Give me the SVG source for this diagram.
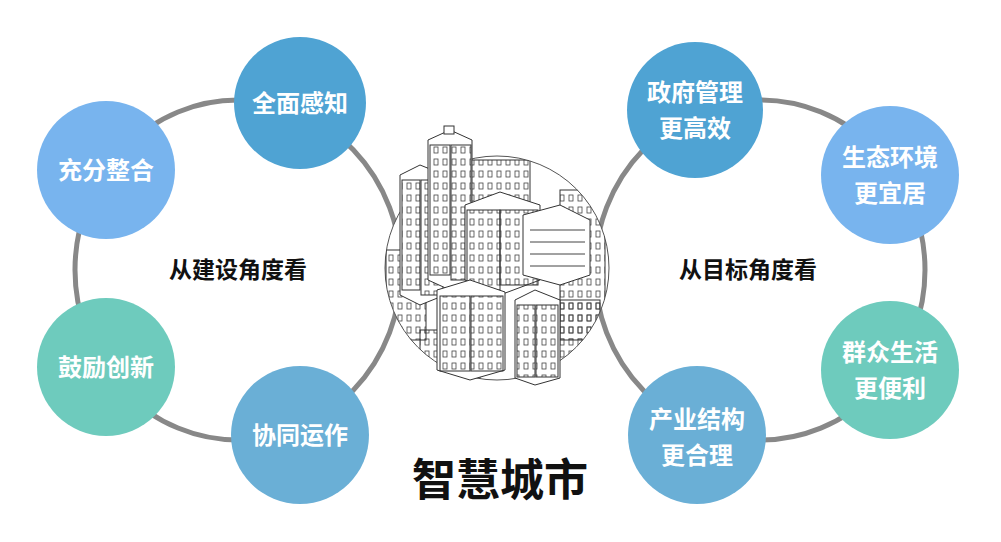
<svg xmlns="http://www.w3.org/2000/svg" width="1001" height="542" viewBox="0 0 1001 542">
<style>
.ring{fill:none;stroke:#888;stroke-width:5}
.n text{font-family:"Noto Sans CJK SC",sans-serif;font-weight:bold;font-size:24px;fill:#fff;text-anchor:middle}
.lbl{font-family:"Noto Sans CJK SC",sans-serif;font-weight:bold;font-size:23px;fill:#111;text-anchor:middle}
.b{fill:#fff;stroke:#333;stroke-width:1}
.w{fill:url(#win);stroke:#333;stroke-width:1}
</style>
<defs>
<pattern id="win" width="9" height="12" patternUnits="userSpaceOnUse"><rect x="2" y="3" width="4" height="6" fill="none" stroke="#444" stroke-width="0.8"/></pattern>
<clipPath id="cc"><circle cx="497" cy="268" r="112"/></clipPath>
</defs>
<g id="connectors">
<ellipse class="ring" cx="238" cy="270" rx="163" ry="170"/>
<ellipse class="ring" cx="760" cy="270" rx="165" ry="170"/>
</g>
<g id="city">
<circle cx="497" cy="268" r="112" fill="#fff" stroke="#555" stroke-width="1"/>
<g clip-path="url(#cc)">
<rect class="w" x="386" y="250" width="40" height="90"/>
<rect class="w" x="470" y="160" width="60" height="70"/>
<rect class="w" x="560" y="190" width="45" height="150"/>
<rect class="w" x="520" y="300" width="80" height="90"/>
<rect class="w" x="420" y="330" width="60" height="60"/>
</g>
<polygon class="b" points="400,175 420,165 445,175 445,295 420,305 400,295"/>
<rect class="w" x="402" y="180" width="18" height="110"/>
<rect class="w" x="421" y="180" width="22" height="115"/>
<polygon class="b" points="428,140 450,130 472,140 472,280 450,290 428,280"/>
<rect class="w" x="430" y="145" width="20" height="130"/>
<rect class="w" x="451" y="145" width="20" height="135"/>
<rect class="b" x="444" y="126" width="10" height="8"/>
<polygon class="b" points="465,205 500,192 540,205 540,280 500,295 465,280"/>
<rect class="w" x="467" y="210" width="33" height="80"/>
<rect class="w" x="500" y="210" width="38" height="75"/>
<polygon class="b" points="523,215 560,205 590,220 590,275 560,285 523,275"/>
<path d="M530 230 h55 M530 242 h55 M530 254 h55 M530 266 h55" stroke="#444" fill="none"/>
<polygon class="b" points="437,290 470,280 505,292 505,370 470,380 437,370"/>
<rect class="w" x="440" y="296" width="30" height="75"/>
<rect class="w" x="471" y="296" width="32" height="75"/>
<polygon class="b" points="515,300 535,290 560,300 560,378 535,385 515,378"/>
<rect class="w" x="517" y="305" width="18" height="72"/>
<rect class="w" x="536" y="305" width="22" height="72"/>
</g>
<g id="n1" class="n"><circle cx="300" cy="103" r="66" fill="#4fa3d3"/><text x="300" y="112">全面感知</text></g>
<g id="n2" class="n"><circle cx="106" cy="170" r="69" fill="#78b4ee"/><text x="106" y="179">充分整合</text></g>
<g id="n3" class="n"><circle cx="106" cy="367" r="69" fill="#6ecbbd"/><text x="106" y="376">鼓励创新</text></g>
<g id="n4" class="n"><circle cx="300" cy="435" r="69" fill="#6aafd6"/><text x="300" y="444">协同运作</text></g>
<g id="n5" class="n"><circle cx="695" cy="110" r="68" fill="#4fa3d3"/><text x="695" y="101">政府管理</text><text x="695" y="137">更高效</text></g>
<g id="n6" class="n"><circle cx="890" cy="175" r="69" fill="#78b4ee"/><text x="890" y="166">生态环境</text><text x="890" y="202">更宜居</text></g>
<g id="n7" class="n"><circle cx="890" cy="370" r="69" fill="#6ecbbd"/><text x="890" y="361">群众生活</text><text x="890" y="397">更便利</text></g>
<g id="n8" class="n"><circle cx="697" cy="435" r="69" fill="#6aafd6"/><text x="697" y="428">产业结构</text><text x="697" y="464">更合理</text></g>
<text class="lbl" x="238" y="278">从建设角度看</text>
<text class="lbl" x="748" y="278">从目标角度看</text>
<text x="500" y="496" font-family="Noto Sans CJK SC,sans-serif" font-weight="bold" font-size="44" fill="#111" text-anchor="middle">智慧城市</text>
</svg>
